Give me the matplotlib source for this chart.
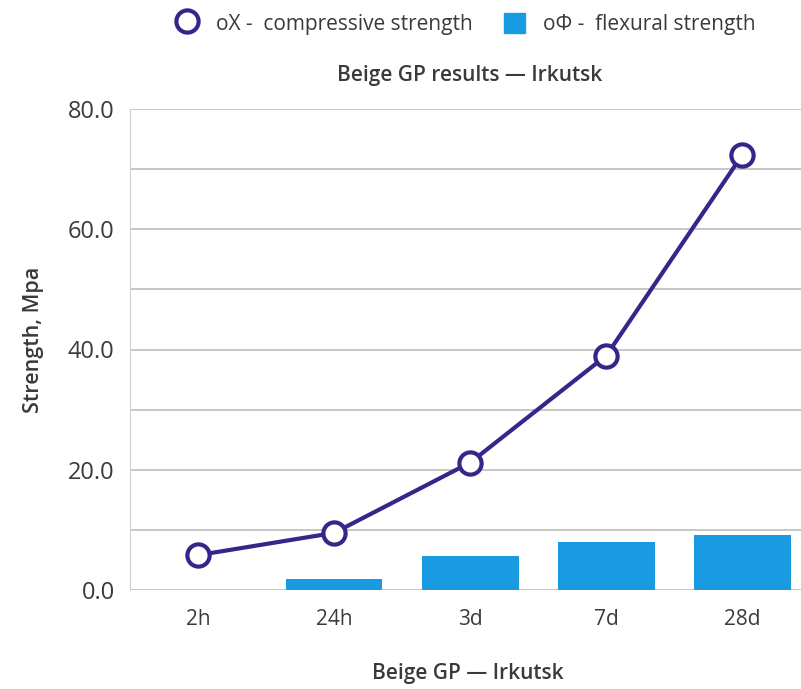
import matplotlib

matplotlib.use("Agg")
import matplotlib.pyplot as plt
import numpy as np
from matplotlib.lines import Line2D
from matplotlib.patches import Patch

ages = ["2h", "24h", "3d", "7d", "28d"]
compressive = [5.8, 9.5, 21.2, 39.0, 72.4]
flexural = [0.0, 1.8, 5.6, 8.0, 9.1]
y_ticks = [0, 20, 40, 60, 80]

LINE_C = "#33288a"
BAR_C = "#1a9ae0"
TEXT_C = "#3a3a3a"

plt.rcParams["font.family"] = ["Open Sans", "DejaVu Sans"]

fig = plt.figure(figsize=(8.01, 6.89), dpi=100)
# plot area: x 130..801 px, y 109..590 px
ax = fig.add_axes([130 / 801, 1 - 590 / 689, 671 / 801, 481 / 689])

x = np.arange(len(ages))
ax.bar(x, flexural, width=0.71, color=BAR_C, zorder=2)
ax.plot(x, compressive, color=LINE_C, lw=3, marker="o", ms=16,
        mfc="white", mec=LINE_C, mew=3, zorder=3, clip_on=False)

ax.set_xlim(-0.5, 4.43)
ax.set_ylim(0, 80)
ax.set_yticks(y_ticks)
ax.set_yticklabels([f"{v:.1f}" for v in y_ticks], fontsize=17, color=TEXT_C)
ax.set_yticks(np.arange(0, 81, 10), minor=True)
ax.set_xticks(x)
ax.set_xticklabels(ages, fontsize=15, color=TEXT_C)
ax.tick_params(axis="both", which="both", length=0)
ax.tick_params(axis="x", pad=14)
ax.tick_params(axis="y", pad=11)
ax.grid(axis="y", which="both", color="#bdbdbd", lw=1.2, zorder=0)
for s in ["top", "right", "bottom"]:
    ax.spines[s].set_visible(False)
ax.spines["left"].set_color("#d0d0d0")

fig.text(34 / 801, 1 - 340 / 689, "Strength, Mpa", rotation=90, ha="center", va="center",
         fontsize=15.5, fontweight="semibold", color=TEXT_C)
fig.text(468 / 801, 1 - 673 / 689, "Beige GP — Irkutsk", ha="center", va="center",
         fontsize=15, fontweight="semibold", color=TEXT_C)
fig.text(470 / 801, 1 - 76 / 689, "Beige GP results — Irkutsk", ha="center", va="center",
         fontsize=15, fontweight="semibold", color=TEXT_C)

handles = [
    Line2D([], [], ls="none", marker="o", ms=16, mfc="white", mec=LINE_C, mew=3),
    Patch(color=BAR_C),
]
labels = ["oX -  compressive strength", "oΦ -  flexural strength"]
fig.legend(handles, labels, loc="center", bbox_to_anchor=(466 / 801, 1 - 24 / 689), ncol=2,
           frameon=False, fontsize=15, handlelength=1.0, handleheight=1.1,
           columnspacing=1.5, handletextpad=0.9, labelcolor=TEXT_C)

fig.savefig("out.png", dpi=100)
